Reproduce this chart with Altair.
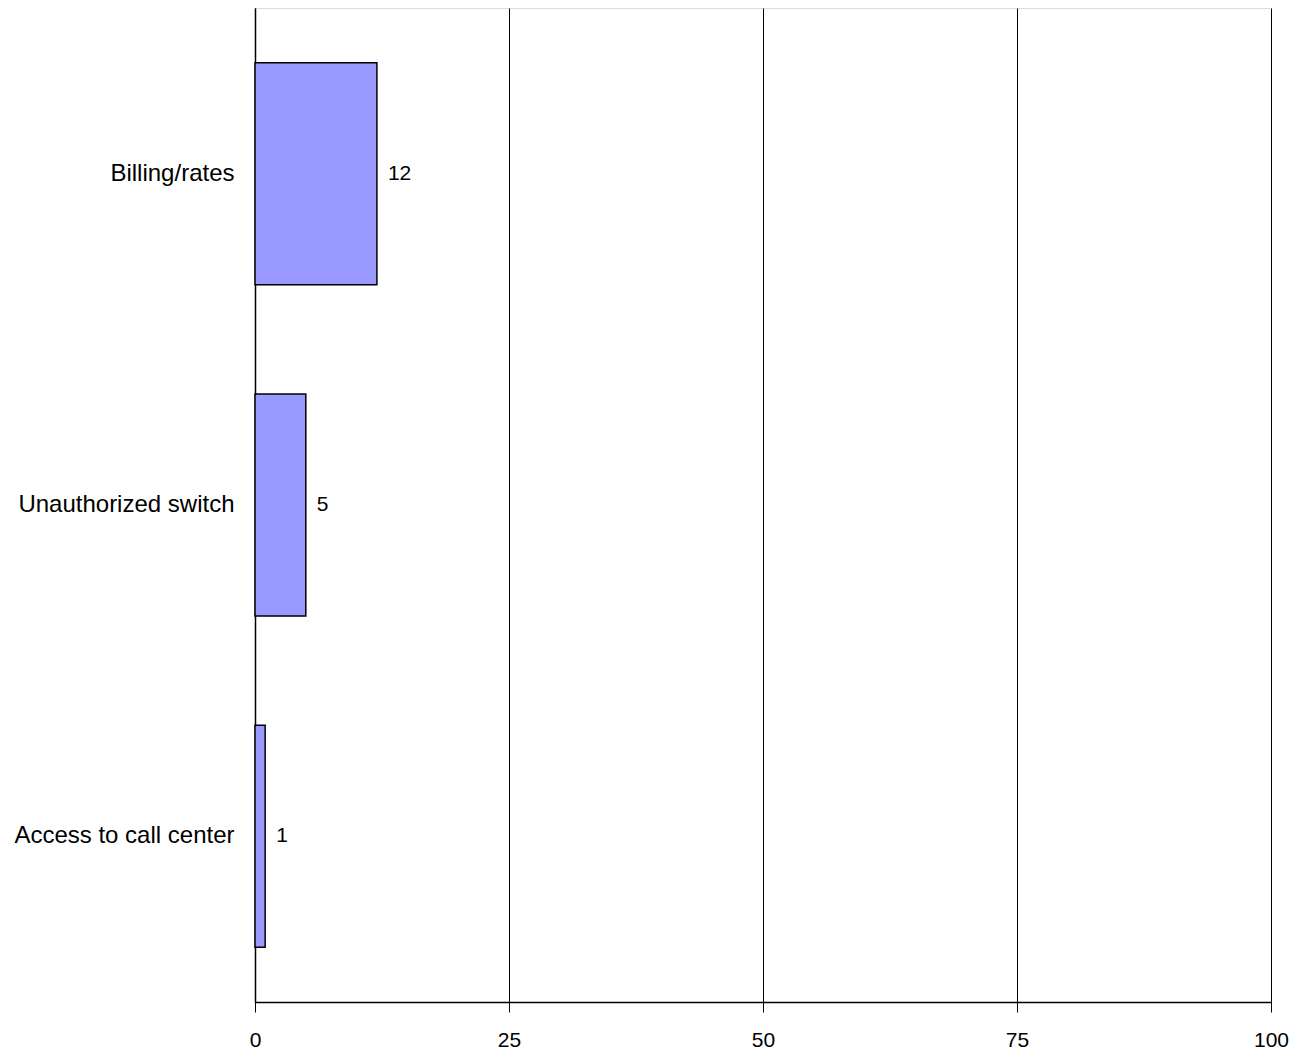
import altair as alt
import pandas as pd

categories = ["Billing/rates", "Unauthorized switch", "Access to call center"]
values = [12, 5, 1]

df = pd.DataFrame({"category": categories, "value": values})

FONT = "Liberation Sans"

base = alt.Chart(df)

bars = base.mark_bar(fill="#9999FF", stroke="black", strokeWidth=1.5).encode(
    y=alt.Y("category:N", sort=categories, title=None,
            scale=alt.Scale(paddingInner=0.33, paddingOuter=0.165),
            axis=alt.Axis(ticks=False, labelPadding=21, labelFontSize=24,
                          labelFont=FONT, labelColor="black", domainColor="black",
                          domainWidth=1.5, labelLimit=400)),
    x=alt.X("value:Q", title=None,
            scale=alt.Scale(domain=[0, 100], nice=False),
            axis=alt.Axis(values=[0, 25, 50, 75, 100], tickSize=10, labelPadding=17,
                          labelFontSize=21, labelFont=FONT, labelColor="black",
                          labelFlush=False,
                          domainColor="black", domainWidth=1.5, tickColor="black",
                          grid=True, gridColor="black", gridWidth=1)),
)

labels = base.mark_text(align="left", baseline="middle", dx=11, fontSize=21,
                        font=FONT, color="black").encode(
    y=alt.Y("category:N", sort=categories),
    x=alt.X("value:Q"),
    text=alt.Text("value:Q"),
)

chart = (bars + labels).properties(
    width=1016, height=994,
    autosize=alt.AutoSizeParams(type="none"),
    padding={"left": 247, "top": 0, "right": 30, "bottom": 50},
).configure_view(stroke="#808080", strokeWidth=2).configure(background="white")

chart.save("out.html", embed_options={"renderer": "svg", "actions": False})
